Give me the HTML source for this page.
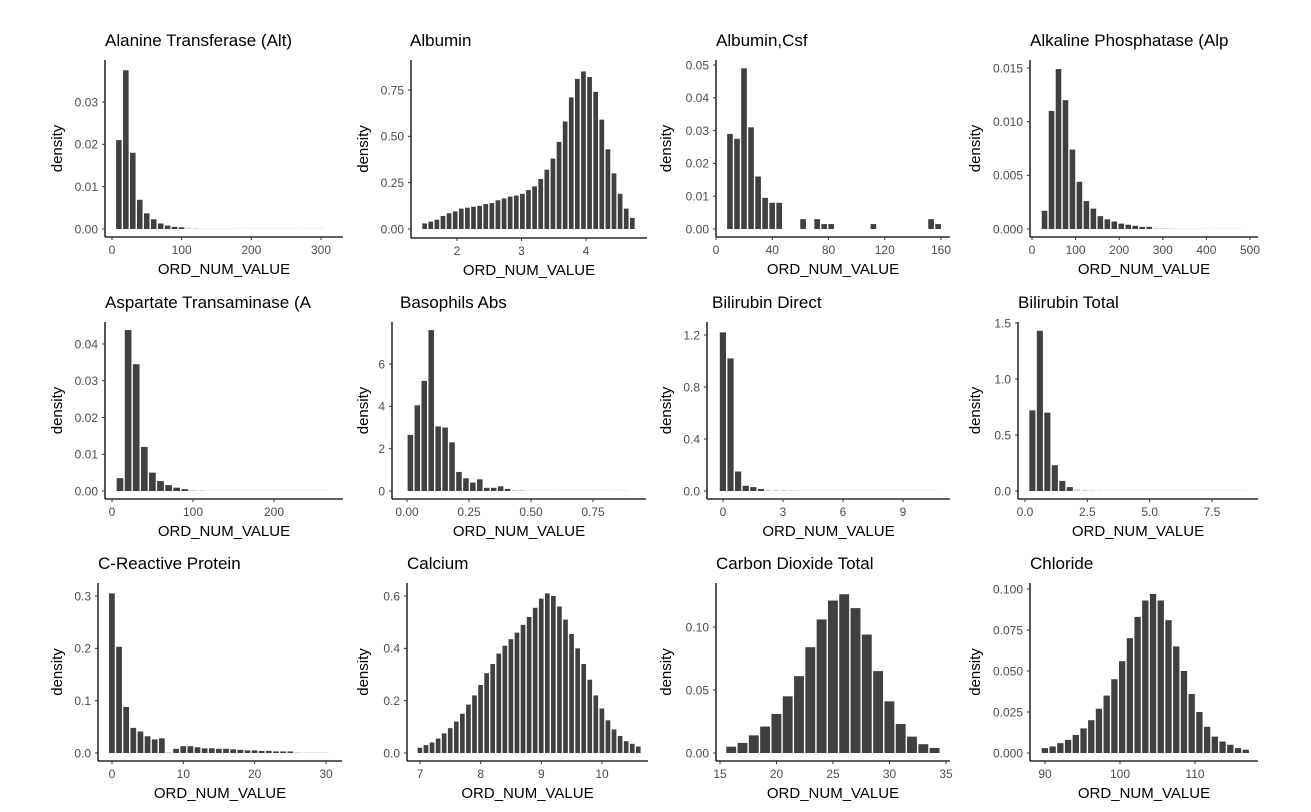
<!DOCTYPE html>
<html><head><meta charset="utf-8"><style>
body{margin:0;background:#fff;}
svg{display:block;font-family:"Liberation Sans",sans-serif;}
</style></head><body>
<svg id="chart" width="1311" height="812" viewBox="0 0 1311 812" xmlns="http://www.w3.org/2000/svg"></svg>
<script>
// ---- data (bin heights, densities) ----
const titles=["Alanine Transferase (Alt)","Albumin","Albumin,Csf","Alkaline Phosphatase (Alp","Aspartate Transaminase (A","Basophils Abs","Bilirubin Direct","Bilirubin Total","C-Reactive Protein","Calcium","Carbon Dioxide Total","Chloride"];
const altHeights=[0.021,0.0375,0.018,0.0069,0.0037,0.0023,0.0013,0.0008,0.0005,0.0004,0.0003,0.0002,0.0001,0.0001,0.00005,0.00005,0.00004,0.00004,0.00003,0.00003,0.00002,0.00002,0.00002,0.00002,0.00001,0.00001,0.00001,0.00001,0.00001,0.00001];
const albuminHeights=[0.03,0.04,0.05,0.07,0.085,0.095,0.11,0.115,0.12,0.125,0.135,0.14,0.155,0.165,0.175,0.18,0.19,0.21,0.23,0.27,0.32,0.38,0.47,0.58,0.71,0.81,0.85,0.82,0.74,0.59,0.43,0.30,0.19,0.11,0.06];
const csfCenters=[10,15,20,25,30,35,40,45,62,72,77,82,112,153,158];
const csfHeights=[0.029,0.0275,0.049,0.031,0.016,0.0095,0.008,0.008,0.003,0.003,0.0015,0.0015,0.0015,0.003,0.0015];
const alpHeights=[0.0017,0.011,0.0149,0.012,0.0074,0.0044,0.0026,0.0019,0.0012,0.0009,0.0007,0.0005,0.0004,0.0003,0.0002,0.0002,0.0001,0.0001,0.00005,0.00005,0.00004,0.00003,0.00003,0.00002,0.00002,0.00002,0.00001,0.00001,0.00001];
const astHeights=[0.0035,0.0438,0.0345,0.012,0.005,0.0027,0.0016,0.0009,0.0005,0.0003,0.0002,0.0001,0.00005,0.00004,0.00003,0.00003,0.00002,0.00002,0.00002,0.00001,0.00001,0.00001,0.00001,0.00001,0.00001,0.00001];
const basoHeights=[2.65,4.05,5.2,7.6,3.05,3.0,2.3,0.9,0.6,0.4,0.55,0.15,0.15,0.22,0.1,0.05,0.05,0.02,0.02,0.01,0.01,0.01,0.01,0.01,0.01,0.01,0.01,0.01,0.01,0.01,0.01,0.01];
const bdirHeights=[1.22,1.02,0.15,0.04,0.03,0.015,0.01,0.01,0.008,0.005,0.004,0.003,0.003,0.002,0.002,0.002,0.001,0.001,0.001,0.001,0.001,0.001,0.001,0.001,0.001,0.001,0.001,0.001,0.001];
const btotHeights=[0.72,1.43,0.70,0.23,0.09,0.035,0.015,0.012,0.005,0.004,0.003,0.002,0.002,0.001,0.001,0.001,0.001,0.001,0.001,0.001,0.001,0.001,0.001,0.001,0.001,0.001,0.001,0.001,0.001];
const crpHeights=[0.305,0.203,0.088,0.048,0.041,0.032,0.026,0.028,0.002,0.008,0.013,0.013,0.011,0.009,0.009,0.008,0.008,0.007,0.006,0.005,0.005,0.004,0.004,0.003,0.003,0.003,0.002,0.001,0.001,0.001,0.001];
const calciumHeights=[0.02,0.03,0.04,0.055,0.075,0.095,0.12,0.15,0.185,0.22,0.26,0.305,0.34,0.38,0.41,0.435,0.46,0.49,0.52,0.555,0.59,0.61,0.60,0.56,0.51,0.455,0.40,0.34,0.28,0.22,0.17,0.125,0.09,0.065,0.045,0.035,0.025];
const co2Heights=[0.005,0.008,0.014,0.021,0.031,0.045,0.061,0.084,0.106,0.121,0.126,0.115,0.094,0.065,0.041,0.023,0.013,0.007,0.004];
const chlorideHeights=[0.003,0.004,0.006,0.008,0.011,0.015,0.02,0.027,0.035,0.045,0.056,0.07,0.083,0.093,0.097,0.093,0.081,0.065,0.05,0.036,0.025,0.016,0.01,0.007,0.005,0.003,0.002];
// tick labels
const xTicks=[[0,100,200,300],[2,3,4],[0,40,80,120,160],[0,100,200,300,400,500],[0,100,200],[0,0.25,0.5,0.75],[0,3,6,9],[0,2.5,5,7.5],[0,10,20,30],[7,8,9,10],[15,20,25,30,35],[90,100,110]];
const xTickLabels=[["0","100","200","300"],["2","3","4"],["0","40","80","120","160"],["0","100","200","300","400","500"],["0","100","200"],["0.00","0.25","0.50","0.75"],["0","3","6","9"],["0.0","2.5","5.0","7.5"],["0","10","20","30"],["7","8","9","10"],["15","20","25","30","35"],["90","100","110"]];
const yTicks=[[0,0.01,0.02,0.03],[0,0.25,0.5,0.75],[0,0.01,0.02,0.03,0.04,0.05],[0,0.005,0.01,0.015],[0,0.01,0.02,0.03,0.04],[0,2,4,6],[0,0.4,0.8,1.2],[0,0.5,1.0,1.5],[0,0.1,0.2,0.3],[0,0.2,0.4,0.6],[0,0.05,0.10],[0,0.025,0.05,0.075,0.1]];
const yTickLabels=[["0.00","0.01","0.02","0.03"],["0.00","0.25","0.50","0.75"],["0.00","0.01","0.02","0.03","0.04","0.05"],["0.000","0.005","0.010","0.015"],["0.00","0.01","0.02","0.03","0.04"],["0","2","4","6"],["0.0","0.4","0.8","1.2"],["0.0","0.5","1.0","1.5"],["0.0","0.1","0.2","0.3"],["0.0","0.2","0.4","0.6"],["0.00","0.05","0.10"],["0.000","0.025","0.050","0.075","0.100"]];
const seriesHeights=[altHeights,albuminHeights,csfHeights,alpHeights,astHeights,basoHeights,bdirHeights,btotHeights,crpHeights,calciumHeights,co2Heights,chlorideHeights];
const binStart=[10,1.5,null,29,10,0.014,0,0.3,0,7.0,16,90];
const binWidth=[10,0.0947,5,16,10,0.028,0.38,0.3,1,0.1,1,1.03];

// ---- layout / scales (pixel config, not data) ----
const L=[
 {ax:105,end:343,bot:237,top:60,x0:[0,112],x1:[300,321],y0:[0,229],y1:[0.03,102],tx:105,dx:58},
 {ax:411,end:647,bot:238,top:60,x0:[2,457],x1:[4,586],y0:[0,229],y1:[0.75,90],tx:410,dx:364},
 {ax:716,end:950,bot:237,top:60,x0:[0,716],x1:[160,941],y0:[0,229],y1:[0.05,65],tx:716,dx:667},
 {ax:1030,end:1258,bot:237,top:60,x0:[0,1032],x1:[500,1250],y0:[0,229],y1:[0.015,68],tx:1030,dx:976},
 {ax:105,end:343,bot:499,top:322,x0:[0,112],x1:[200,274],y0:[0,491],y1:[0.04,344],tx:105,dx:58},
 {ax:392,end:646,bot:499,top:322,x0:[0,407],x1:[0.75,593],y0:[0,491],y1:[6,364],tx:400,dx:364},
 {ax:707,end:950,bot:499,top:322,x0:[0,723],x1:[9,903],y0:[0,491],y1:[1.2,335],tx:712,dx:667},
 {ax:1018,end:1258,bot:499,top:322,x0:[0,1025],x1:[7.5,1212],y0:[0,491],y1:[1.5,323],tx:1018,dx:976},
 {ax:98,end:342,bot:761,top:583,x0:[0,112],x1:[30,326],y0:[0,753],y1:[0.3,596],tx:98,dx:58},
 {ax:407,end:648,bot:761,top:583,x0:[7,420],x1:[10,602],y0:[0,753],y1:[0.6,596],tx:407,dx:364},
 {ax:716,end:950,bot:761,top:583,x0:[15,720],x1:[35,946],y0:[0,753],y1:[0.10,627],tx:716,dx:667},
 {ax:1030,end:1258,bot:761,top:583,x0:[90,1045],x1:[110,1195],y0:[0,753],y1:[0.1,589],tx:1030,dx:976}
];
const NS="http://www.w3.org/2000/svg";
const svg=document.getElementById('chart');
function mk(tag,attrs,parent){const e=document.createElementNS(NS,tag);for(const k in attrs)e.setAttribute(k,attrs[k]);parent.appendChild(e);return e;}
L.forEach((p,i)=>{
  const sx=v=>p.x0[1]+(v-p.x0[0])*(p.x1[1]-p.x0[1])/(p.x1[0]-p.x0[0]);
  const sy=v=>p.y0[1]+(v-p.y0[0])*(p.y1[1]-p.y0[1])/(p.y1[0]-p.y0[0]);
  const g=mk('g',{},svg);
  
  
  const t=mk('text',{x:p.tx,y:p.top-14,'font-size':17,fill:'#000'},g);t.textContent=titles[i];
  
  
  const hs=seriesHeights[i];
  const pxw=Math.abs(sx(binWidth[i])-sx(0));
  hs.forEach((h,k)=>{
    const c=(i===2)?csfCenters[k]:binStart[i]+k*binWidth[i];
    const y=sy(h),y0=sy(0);
    const r=mk('rect',{x:sx(c)-pxw/2+0.6,y:Math.min(y,y0-0.3),width:Math.max(pxw-1.4,1),height:Math.max(y0-y,0.3),fill:h<0.0001*(p.y1[0]/0.01)?'#cfcfcf':'#404040'},g);
    
    
  });
  const ya=mk('line',{x1:p.ax,y1:p.top,x2:p.ax,y2:p.bot,stroke:'#000','stroke-width':1.3},g);
  
  
  const xa=mk('line',{x1:p.ax,y1:p.bot,x2:p.end,y2:p.bot,stroke:'#000','stroke-width':1.3},g);
  
  
  xTicks[i].forEach((v,k)=>{
    const x=sx(v);
    mk('line',{x1:x,y1:p.bot,x2:x,y2:p.bot+3,stroke:'#333','stroke-width':1},g);
    const tl=mk('text',{x:x,y:p.bot+17,'font-size':12,fill:'#4d4d4d','text-anchor':'middle'},g);tl.textContent=xTickLabels[i][k];
    
    
  });
  yTicks[i].forEach((v,k)=>{
    const y=sy(v);
    mk('line',{x1:p.ax-3,y1:y,x2:p.ax,y2:y,stroke:'#333','stroke-width':1},g);
    const tl=mk('text',{x:p.ax-7,y:y+4.3,'font-size':12,fill:'#4d4d4d','text-anchor':'end'},g);tl.textContent=yTickLabels[i][k];
    
    
  });
  const xt=mk('text',{x:(p.ax+p.end)/2,y:p.bot+37,'font-size':15,fill:'#000','text-anchor':'middle'},g);xt.textContent='ORD_NUM_VALUE';
  
  
  const cy=(p.top+p.bot)/2;
  const yt=mk('text',{x:p.dx,y:cy,'font-size':15,fill:'#000','text-anchor':'middle',transform:'rotate(-90 '+p.dx+' '+cy+')','dominant-baseline':'middle'},g);yt.textContent='density';
  
  
});
</script>
</body></html>
